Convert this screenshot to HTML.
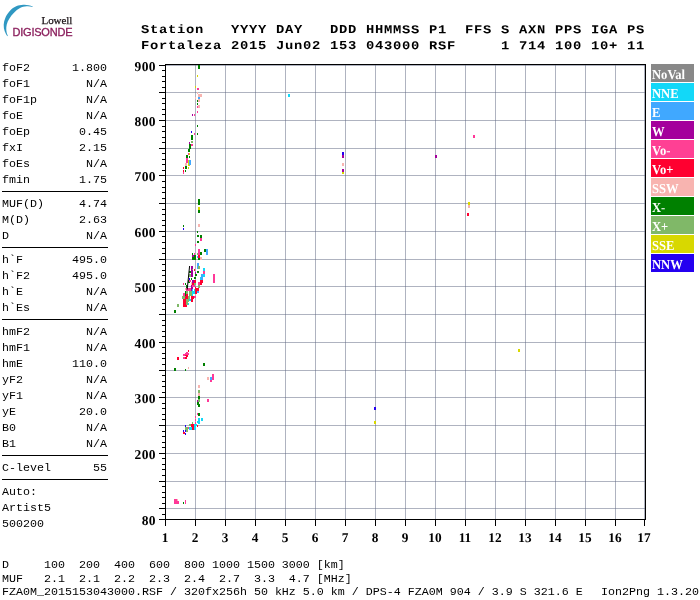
<!DOCTYPE html>
<html><head><meta charset="utf-8"><title>Ionogram</title>
<style>
html,body{margin:0;padding:0;background:#fff;}
body{width:700px;height:600px;position:relative;overflow:hidden;will-change:transform;font-family:"Liberation Mono",monospace;}
.m{position:absolute;white-space:pre;font:10.6px/16px "Liberation Mono",monospace;color:#000;transform:scaleX(1.1006);transform-origin:0 0;}
.h{position:absolute;white-space:pre;font:bold 12px/16px "Liberation Mono",monospace;letter-spacing:0.626px;color:#000;transform:rotate(0.03deg) scaleX(1.15);transform-origin:0 0;}
.sep{position:absolute;left:2px;width:106px;height:1px;background:#000;}
.yl{position:absolute;width:40px;text-align:right;font:bold 13.5px/14px "Liberation Serif",serif;letter-spacing:0.4px;color:#000;transform:rotate(0.05deg);}
.xl{position:absolute;width:30px;text-align:center;font:bold 13.3px/14px "Liberation Serif",serif;color:#000;transform:rotate(0.05deg);}
.lg{position:absolute;left:651px;width:43px;height:18px;color:#fff;font:bold 13.7px/14px "Liberation Serif",serif;white-space:pre;}
.lg span{position:absolute;left:1.2px;top:4.4px;transform:rotate(0.05deg) scaleX(0.92);transform-origin:0 0;}
svg{position:absolute;left:0;top:0;}
</style></head><body>
<div class="h" style="left:141.4px;top:21.5px">Station   YYYY DAY   DDD HHMMSS P1  FFS S AXN PPS IGA PS</div>
<div class="h" style="left:141.4px;top:37.5px">Fortaleza 2015 Jun02 153 043000 RSF     1 714 100 10+ 11</div>
<div class="m" style="left:2px;top:60px">foF2      1.800</div>
<div class="m" style="left:2px;top:76px">foF1        N/A</div>
<div class="m" style="left:2px;top:92px">foF1p       N/A</div>
<div class="m" style="left:2px;top:108px">foE         N/A</div>
<div class="m" style="left:2px;top:124px">foEp       0.45</div>
<div class="m" style="left:2px;top:140px">fxI        2.15</div>
<div class="m" style="left:2px;top:156px">foEs        N/A</div>
<div class="m" style="left:2px;top:172px">fmin       1.75</div>
<div class="m" style="left:2px;top:196px">MUF(D)     4.74</div>
<div class="m" style="left:2px;top:212px">M(D)       2.63</div>
<div class="m" style="left:2px;top:228px">D           N/A</div>
<div class="m" style="left:2px;top:252px">h`F       495.0</div>
<div class="m" style="left:2px;top:268px">h`F2      495.0</div>
<div class="m" style="left:2px;top:284px">h`E         N/A</div>
<div class="m" style="left:2px;top:300px">h`Es        N/A</div>
<div class="m" style="left:2px;top:324px">hmF2        N/A</div>
<div class="m" style="left:2px;top:340px">hmF1        N/A</div>
<div class="m" style="left:2px;top:356px">hmE       110.0</div>
<div class="m" style="left:2px;top:372px">yF2         N/A</div>
<div class="m" style="left:2px;top:388px">yF1         N/A</div>
<div class="m" style="left:2px;top:404px">yE         20.0</div>
<div class="m" style="left:2px;top:420px">B0          N/A</div>
<div class="m" style="left:2px;top:436px">B1          N/A</div>
<div class="m" style="left:2px;top:460px">C-level      55</div>
<div class="m" style="left:2px;top:484px">Auto:          </div>
<div class="m" style="left:2px;top:500px">Artist5        </div>
<div class="m" style="left:2px;top:516px">500200         </div>
<div class="sep" style="top:191px"></div>
<div class="sep" style="top:247px"></div>
<div class="sep" style="top:319px"></div>
<div class="sep" style="top:455px"></div>
<div class="sep" style="top:479px"></div>
<div class="m" style="left:2px;top:557px">D     100  200  400  600  800 1000 1500 3000 [km]</div>
<div class="m" style="left:2px;top:570.5px">MUF   2.1  2.1  2.2  2.3  2.4  2.7  3.3  4.7 [MHz]</div>
<div class="m" style="left:2px;top:584px">FZA0M_2015153043000.RSF / 320fx256h 50 kHz 5.0 km / DPS-4 FZA0M 904 / 3.9 S 321.6 E</div>
<div class="m" style="left:600.5px;top:584px">Ion2Png 1.3.20</div>
<svg width="700" height="600" viewBox="0 0 700 600" shape-rendering="crispEdges">
<path d="M195.5 65V519M225.5 65V519M255.5 65V519M285.5 65V519M315.5 65V519M345.5 65V519M375.5 65V519M405.5 65V519M435.5 65V519M465.5 65V519M495.5 65V519M525.5 65V519M555.5 65V519M585.5 65V519M615.5 65V519M644.5 65V519" stroke="#5f6882" stroke-opacity="0.5" stroke-width="1" fill="none"/>
<path d="M166 508.5H645M166 481.5H645M166 453.5H645M166 425.5H645M166 397.5H645M166 370.5H645M166 342.5H645M166 314.5H645M166 286.5H645M166 259.5H645M166 231.5H645M166 203.5H645M166 175.5H645M166 148.5H645M166 120.5H645M166 92.5H645M166 65.5H645" stroke="#5f6882" stroke-opacity="0.5" stroke-width="1" fill="none"/>
<path d="M198 65h2v4h-2z" fill="#008000"/>
<path d="M197 75h1v2h-1zM195 86h1v2h-1z" fill="#d8d800"/>
<path d="M197 88h2v2h-2z" fill="#ff3898"/>
<path d="M197 92h1v2h-1zM198 94h4v3h-4z" fill="#f8b4b0"/>
<path d="M198 97h2v2h-2z" fill="#40a8ff"/>
<path d="M195 97h1v2h-1zM198 99h2v3h-2z" fill="#f8b4b0"/>
<path d="M197 100h1v2h-1zM197 103h1v2h-1z" fill="#008000"/>
<path d="M198 105h2v3h-2z" fill="#f8b4b0"/>
<path d="M197 106h1v2h-1zM197 111h1v2h-1z" fill="#ff3898"/>
<path d="M192 114h1v2h-1z" fill="#a4009c"/>
<path d="M194 114h1v2h-1z" fill="#ff3898"/>
<path d="M197 125h1v2h-1z" fill="#008000"/>
<path d="M191 131h1v2h-1z" fill="#2400f0"/>
<path d="M194 133h1v2h-1z" fill="#ff3898"/>
<path d="M197 133h1v2h-1zM191 135h2v5h-2z" fill="#008000"/>
<path d="M191 141h2v2h-2z" fill="#80b868"/>
<path d="M189 142h1v2h-1z" fill="#a4009c"/>
<path d="M191 144h2v2h-2z" fill="#ff3898"/>
<path d="M189 144h2v5h-2zM188 149h2v3h-2z" fill="#008000"/>
<path d="M188 153h1v2h-1z" fill="#ff3898"/>
<path d="M189 153h1v2h-1z" fill="#d8d800"/>
<path d="M186 155h2v3h-2zM189 156h1v2h-1z" fill="#008000"/>
<path d="M186 158h2v5h-2z" fill="#ff3898"/>
<path d="M188 160h2v6h-2z" fill="#d8d800"/>
<path d="M189 160h2v5h-2z" fill="#40a8ff"/>
<path d="M185 163h2v3h-2z" fill="#f8b4b0"/>
<path d="M185 166h2v3h-2z" fill="#008000"/>
<path d="M188 167h1v2h-1z" fill="#d8d800"/>
<path d="M183 167h1v2h-1zM183 170h1v2h-1z" fill="#ff0030"/>
<path d="M183 172h1v2h-1z" fill="#ff3898"/>
<path d="M185 170h1v2h-1zM198 199h2v6h-2z" fill="#008000"/>
<path d="M198 207h2v3h-2z" fill="#d8d800"/>
<path d="M198 210h2v3h-2z" fill="#008000"/>
<path d="M198 224h2v3h-2z" fill="#f8b4b0"/>
<path d="M183 225h1v2h-1z" fill="#008000"/>
<path d="M183 228h1v2h-1z" fill="#2400f0"/>
<path d="M197 231h1v2h-1zM197 235h2v2h-2zM200 235h2v3h-2z" fill="#008000"/>
<path d="M200 238h2v3h-2z" fill="#ff3898"/>
<path d="M197 241h2v2h-2z" fill="#008000"/>
<path d="M195 244h1v2h-1zM198 249h2v6h-2z" fill="#ff3898"/>
<path d="M204 249h2v3h-2z" fill="#008000"/>
<path d="M206 249h2v6h-2z" fill="#40a8ff"/>
<path d="M200 252h2v3h-2z" fill="#008000"/>
<path d="M197 253h1v2h-1z" fill="#80b868"/>
<path d="M192 253h1v2h-1z" fill="#008000"/>
<path d="M194 253h1v2h-1z" fill="#ff3898"/>
<path d="M192 255h2v2h-2z" fill="#a4009c"/>
<path d="M194 255h2v5h-2zM192 257h2v3h-2z" fill="#008000"/>
<path d="M198 255h2v3h-2z" fill="#ff0030"/>
<path d="M197 256h1v2h-1z" fill="#40a8ff"/>
<path d="M198 258h2v2h-2z" fill="#008000"/>
<path d="M200 257h2v3h-2z" fill="#f8b4b0"/>
<path d="M197 263h2v6h-2z" fill="#40a8ff"/>
<path d="M198 266h2v3h-2z" fill="#80b868"/>
<path d="M191 266h2v11h-2z" fill="#a4009c"/>
<path d="M194 269h1v2h-1z" fill="#ff0030"/>
<path d="M203 268h2v3h-2z" fill="#12d8f8"/>
<path d="M192 269h1v2h-1z" fill="#80b868"/>
<path d="M191 270h2v7h-2z" fill="#a4009c"/>
<path d="M189 271h2v2h-2zM197 271h2v2h-2z" fill="#008000"/>
<path d="M195 272h1v2h-1z" fill="#a4009c"/>
<path d="M203 271h2v3h-2z" fill="#ff3898"/>
<path d="M189 274h2v3h-2z" fill="#80b868"/>
<path d="M195 274h2v2h-2z" fill="#008000"/>
<path d="M201 274h2v6h-2z" fill="#40a8ff"/>
<path d="M203 274h2v3h-2z" fill="#12d8f8"/>
<path d="M213 274h2v9h-2z" fill="#ff3898"/>
<path d="M194 277h2v2h-2z" fill="#008000"/>
<path d="M200 277h1v3h-1z" fill="#12d8f8"/>
<path d="M189 278h1v2h-1z" fill="#2400f0"/>
<path d="M191 278h1v2h-1zM188 280h2v3h-2z" fill="#008000"/>
<path d="M189 280h2v2h-2z" fill="#ff3898"/>
<path d="M192 280h2v3h-2z" fill="#a4009c"/>
<path d="M194 280h2v3h-2zM200 280h3v3h-3zM200 283h2v2h-2z" fill="#ff0030"/>
<path d="M198 282h2v3h-2zM183 283h1v2h-1z" fill="#ff3898"/>
<path d="M185 283h1v2h-1z" fill="#008000"/>
<path d="M192 283h2v2h-2z" fill="#ff0030"/>
<path d="M194 283h2v2h-2z" fill="#80b868"/>
<path d="M191 282h1v3h-1z" fill="#f8b4b0"/>
<path d="M186 285h1v3h-1z" fill="#008000"/>
<path d="M191 285h1v2h-1zM191 287h2v4h-2z" fill="#a4009c"/>
<path d="M192 285h3v2h-3z" fill="#ff3898"/>
<path d="M198 285h2v3h-2z" fill="#80b868"/>
<path d="M185 288h1v2h-1z" fill="#f8b4b0"/>
<path d="M186 288h5v3h-5z" fill="#ff3898"/>
<path d="M195 287h1v1h-1zM195 288h4v3h-4zM195 291h2v3h-2z" fill="#ff0030"/>
<path d="M197 291h2v2h-2z" fill="#40a8ff"/>
<path d="M192 289h1v7h-1zM194 289h1v2h-1zM192 291h3v3h-3z" fill="#12d8f8"/>
<path d="M185 294h3v5h-3zM183 299h2v3h-2zM183 299h4v8h-4z" fill="#ff0030"/>
<path d="M185 291h1v5h-1z" fill="#008000"/>
<path d="M186 291h2v3h-2zM189 291h3v5h-3zM188 296h2v3h-2zM186 299h3v3h-3zM186 302h2v3h-2z" fill="#80b868"/>
<path d="M183 293h2v3h-2z" fill="#ff3898"/>
<path d="M182 296h3v3h-3z" fill="#80b868"/>
<path d="M191 296h3v3h-3zM191 299h2v3h-2z" fill="#ff0030"/>
<path d="M194 296h2v2h-2z" fill="#ff3898"/>
<path d="M189 299h2v2h-2zM188 303h1v2h-1z" fill="#12d8f8"/>
<path d="M177 304h2v3h-2z" fill="#80b868"/>
<path d="M174 310h2v3h-2z" fill="#008000"/>
<path d="M188 350h1v2h-1z" fill="#ff0030"/>
<path d="M186 352h2v1h-2zM185 353h4v2h-4zM183 354h2v2h-2z" fill="#ff3898"/>
<path d="M185 355h3v1h-3zM186 356h2v1h-2z" fill="#ff0030"/>
<path d="M183 357h2v2h-2z" fill="#ff3898"/>
<path d="M185 357h2v2h-2zM177 357h2v3h-2z" fill="#ff0030"/>
<path d="M203 363h2v3h-2z" fill="#008000"/>
<path d="M188 367h1v2h-1z" fill="#f8b4b0"/>
<path d="M174 368h2v3h-2zM185 369h1v2h-1z" fill="#008000"/>
<path d="M212 374h2v6h-2z" fill="#ff3898"/>
<path d="M210 377h2v3h-2z" fill="#40a8ff"/>
<path d="M210 380h2v2h-2z" fill="#ff3898"/>
<path d="M207 377h2v3h-2zM198 385h2v3h-2z" fill="#f8b4b0"/>
<path d="M198 390h2v3h-2z" fill="#80b868"/>
<path d="M198 393h2v3h-2z" fill="#f8b4b0"/>
<path d="M198 396h2v3h-2z" fill="#008000"/>
<path d="M198 399h2v3h-2z" fill="#80b868"/>
<path d="M197 400h1v2h-1z" fill="#a4009c"/>
<path d="M207 399h2v3h-2z" fill="#ff3898"/>
<path d="M197 402h2v3h-2zM198 404h2v3h-2z" fill="#008000"/>
<path d="M197 413h1v2h-1z" fill="#ff3898"/>
<path d="M198 413h2v3h-2z" fill="#008000"/>
<path d="M195 416h1v2h-1zM195 419h1v2h-1zM195 422h1v2h-1z" fill="#ff3898"/>
<path d="M198 418h2v6h-2zM201 418h2v3h-2zM197 421h1v2h-1z" fill="#12d8f8"/>
<path d="M192 422h1v2h-1zM189 424h2v2h-2z" fill="#80b868"/>
<path d="M191 424h3v6h-3z" fill="#ff0030"/>
<path d="M194 424h3v2h-3zM194 426h2v4h-2z" fill="#12d8f8"/>
<path d="M197 425h1v2h-1z" fill="#ff0030"/>
<path d="M189 427h3v3h-3z" fill="#12d8f8"/>
<path d="M188 427h1v2h-1z" fill="#ff3898"/>
<path d="M185 425h1v2h-1z" fill="#2400f0"/>
<path d="M185 427h3v5h-3z" fill="#80b868"/>
<path d="M183 430h1v2h-1zM185 430h1v2h-1z" fill="#2400f0"/>
<path d="M183 432h2v2h-2z" fill="#ff0030"/>
<path d="M185 433h1v2h-1z" fill="#2400f0"/>
<path d="M174 499h3v5h-3zM177 501h2v3h-2z" fill="#ff3898"/>
<path d="M177 499h1v2h-1z" fill="#f8b4b0"/>
<path d="M183 502h1v2h-1z" fill="#008000"/>
<path d="M185 500h1v4h-1z" fill="#ff3898"/>
<path d="M288 94h2v3h-2z" fill="#12d8f8"/>
<path d="M342 152h2v3h-2z" fill="#2400f0"/>
<path d="M342 155h2v3h-2z" fill="#a4009c"/>
<path d="M342 163h2v3h-2z" fill="#f8b4b0"/>
<path d="M342 169h2v3h-2z" fill="#a4009c"/>
<path d="M342 172h2v2h-2z" fill="#d8d800"/>
<path d="M473 135h2v3h-2z" fill="#ff3898"/>
<path d="M435 155h2v3h-2z" fill="#a4009c"/>
<path d="M468 202h2v3h-2z" fill="#d8d800"/>
<path d="M468 205h2v3h-2z" fill="#f8b4b0"/>
<path d="M467 213h2v3h-2z" fill="#ff0030"/>
<path d="M518 349h2v3h-2z" fill="#d8d800"/>
<path d="M374 407h2v3h-2z" fill="#2400f0"/>
<path d="M374 421h2v3h-2z" fill="#d8d800"/>
<path d="M189.6 266L187.2 289.5" stroke="#000" stroke-width="1" fill="none" shape-rendering="auto"/>
<path d="M159 519.5H165.5M162 514.5H165.5M159 508.5H165.5M162 503.5H165.5M162 497.5H165.5M162 492.5H165.5M162 486.5H165.5M159 481.5H165.5M162 475.5H165.5M162 469.5H165.5M162 464.5H165.5M162 458.5H165.5M159 453.5H165.5M162 447.5H165.5M162 442.5H165.5M162 436.5H165.5M162 431.5H165.5M159 425.5H165.5M162 419.5H165.5M162 414.5H165.5M162 408.5H165.5M162 403.5H165.5M159 397.5H165.5M162 392.5H165.5M162 386.5H165.5M162 381.5H165.5M162 375.5H165.5M159 370.5H165.5M162 364.5H165.5M162 358.5H165.5M162 353.5H165.5M162 347.5H165.5M159 342.5H165.5M162 336.5H165.5M162 331.5H165.5M162 325.5H165.5M162 320.5H165.5M159 314.5H165.5M162 309.5H165.5M162 303.5H165.5M162 297.5H165.5M162 292.5H165.5M159 286.5H165.5M162 281.5H165.5M162 275.5H165.5M162 270.5H165.5M162 264.5H165.5M159 259.5H165.5M162 253.5H165.5M162 248.5H165.5M162 242.5H165.5M162 236.5H165.5M159 231.5H165.5M162 225.5H165.5M162 220.5H165.5M162 214.5H165.5M162 209.5H165.5M159 203.5H165.5M162 198.5H165.5M162 192.5H165.5M162 187.5H165.5M162 181.5H165.5M159 175.5H165.5M162 170.5H165.5M162 164.5H165.5M162 159.5H165.5M162 153.5H165.5M159 148.5H165.5M162 142.5H165.5M162 137.5H165.5M162 131.5H165.5M162 126.5H165.5M159 120.5H165.5M162 114.5H165.5M162 109.5H165.5M162 103.5H165.5M162 98.5H165.5M159 92.5H165.5M162 87.5H165.5M162 81.5H165.5M162 76.5H165.5M162 70.5H165.5M159 65.5H165.5M165.5 519.5V525.5M195.5 519.5V525.5M225.5 519.5V525.5M255.5 519.5V525.5M285.5 519.5V525.5M315.5 519.5V525.5M345.5 519.5V525.5M375.5 519.5V525.5M405.5 519.5V525.5M435.5 519.5V525.5M465.5 519.5V525.5M495.5 519.5V525.5M525.5 519.5V525.5M555.5 519.5V525.5M585.5 519.5V525.5M615.5 519.5V525.5M644.5 519.5V525.5" stroke="#000" stroke-width="1" fill="none"/>
<path d="M165.5 64.5V519.5H645.5V64.5Z" stroke="#000" stroke-width="1" fill="none"/>
</svg>
<div class="yl" style="left:115.9px;top:59.95px">900</div>
<div class="yl" style="left:115.9px;top:114.95px">800</div>
<div class="yl" style="left:115.9px;top:169.95px">700</div>
<div class="yl" style="left:115.9px;top:225.95px">600</div>
<div class="yl" style="left:115.9px;top:280.95px">500</div>
<div class="yl" style="left:115.9px;top:336.95px">400</div>
<div class="yl" style="left:115.9px;top:391.95px">300</div>
<div class="yl" style="left:115.9px;top:447.95px">200</div>
<div class="yl" style="left:115.9px;top:513.95px">80</div>
<div class="xl" style="left:149.6px;top:531px">1</div>
<div class="xl" style="left:179.6px;top:531px">2</div>
<div class="xl" style="left:209.6px;top:531px">3</div>
<div class="xl" style="left:239.6px;top:531px">4</div>
<div class="xl" style="left:269.6px;top:531px">5</div>
<div class="xl" style="left:299.6px;top:531px">6</div>
<div class="xl" style="left:329.6px;top:531px">7</div>
<div class="xl" style="left:359.6px;top:531px">8</div>
<div class="xl" style="left:389.6px;top:531px">9</div>
<div class="xl" style="left:419.6px;top:531px">10</div>
<div class="xl" style="left:449.6px;top:531px">11</div>
<div class="xl" style="left:479.6px;top:531px">12</div>
<div class="xl" style="left:509.6px;top:531px">13</div>
<div class="xl" style="left:539.6px;top:531px">14</div>
<div class="xl" style="left:569.6px;top:531px">15</div>
<div class="xl" style="left:599.6px;top:531px">16</div>
<div class="xl" style="left:628.6px;top:531px">17</div>
<div class="lg" style="top:64px;background:#888888"><span>NoVal</span></div>
<div class="lg" style="top:83px;background:#12d8f8"><span>NNE</span></div>
<div class="lg" style="top:102px;background:#40a8ff"><span>E</span></div>
<div class="lg" style="top:121px;background:#a4009c"><span>W</span></div>
<div class="lg" style="top:140px;background:#ff4094"><span>Vo-</span></div>
<div class="lg" style="top:159px;background:#ff0030"><span>Vo+</span></div>
<div class="lg" style="top:178px;background:#f8b4b0"><span>SSW</span></div>
<div class="lg" style="top:197px;background:#008000"><span>X-</span></div>
<div class="lg" style="top:216px;background:#80b868"><span>X+</span></div>
<div class="lg" style="top:235px;background:#d8d800"><span>SSE</span></div>
<div class="lg" style="top:254px;background:#2400f0"><span>NNW</span></div>
<svg width="90" height="45" viewBox="0 0 90 45">
<path d="M32.7 6.6C30 5.2 26.5 4.5 23.3 4.7C20.5 4.9 18.5 5.3 16.7 6C14 7.2 11.8 8.8 10 10.7C8 12.8 6.3 15.3 5.3 18C4.4 20.2 3.8 22.4 3.7 24.7C3.6 27 4 29.2 4.7 31.3C5.3 33 6.2 34.6 7.3 36.3L7.8 35.8C6.9 33.9 6.4 32 6.3 30C6.2 28.2 6.3 26.4 6.7 24.7C7.2 22.5 8.1 20.5 9.3 18.7C10.6 16.5 12.2 14.5 14 12.7C15.8 10.9 17.8 9.2 20 8C22 7 24.3 6.4 26.7 6.3C28.7 6.2 30.7 6.4 32.7 6.9Z" fill="#3098c2"/>
</svg>
<div style="position:absolute;left:41.5px;top:14px;font:11px/12px 'Liberation Serif',serif;color:#1c1418;letter-spacing:-0.05px;-webkit-text-stroke:0.25px #1c1418">Lowell</div>
<div style="position:absolute;left:12.5px;top:26px;font:11px/12px 'Liberation Sans',sans-serif;color:#8a1e5c;letter-spacing:-0.22px;-webkit-text-stroke:0.3px #8a1e5c">DIGISONDE</div>
</body></html>
